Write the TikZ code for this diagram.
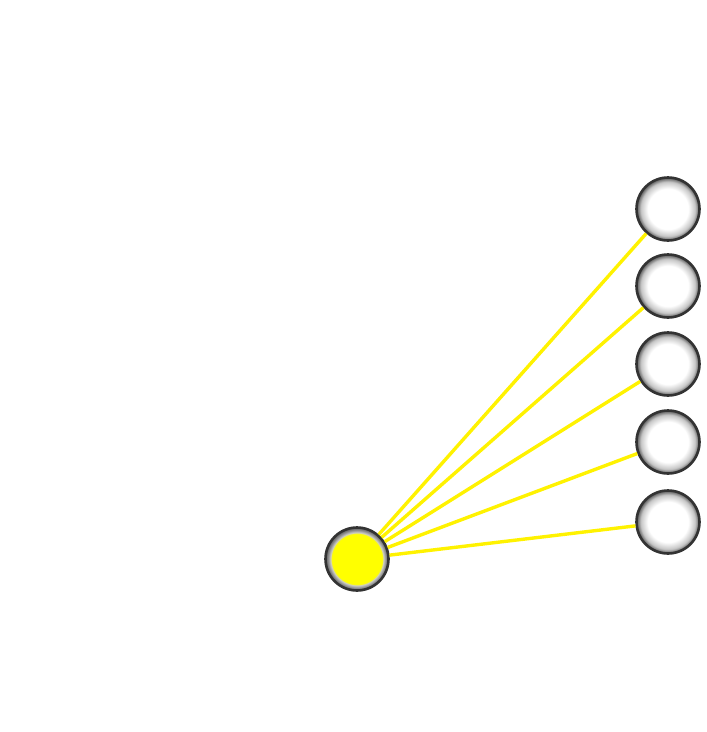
\documentclass[tikz,border=0pt]{standalone}
\usepackage{tikz}
\usetikzlibrary{shapes,positioning}
\definecolor{rim}{HTML}{333333}
\pgfdeclareradialshading{ballwhite}{\pgfpoint{0bp}{0bp}}{color(0bp)=(white); color(16bp)=(white); color(21.5bp)=(black!22); color(24bp)=(black!55); color(25bp)=(black!60); color(50bp)=(black!60)}
\pgfdeclareradialshading{ballyellow}{\pgfpoint{0bp}{0bp}}{color(0bp)=(yellow); color(20bp)=(yellow); color(21bp)=(black!20); color(23bp)=(black!45); color(25bp)=(black!65); color(50bp)=(black!65)}

\begin{document}
\begin{tikzpicture}[
  x=1pt, y=-1pt,
  ball/.style={circle, draw=rim, line width=2.6pt, minimum size=63pt, inner sep=0pt, shading=#1},
  link/.style={draw=yellow, line width=3.4pt}
]
  \useasboundingbox (0,0) rectangle (707,732);
  \node[ball=ballyellow] (src) at (357,559) {};
  \node[ball=ballwhite]  (t1)  at (668,209) {};
  \node[ball=ballwhite]  (t2)  at (668,286) {};
  \node[ball=ballwhite]  (t3)  at (668,364) {};
  \node[ball=ballwhite]  (t4)  at (668,442) {};
  \node[ball=ballwhite]  (t5)  at (668,522) {};
  \draw[link] (src) -- (t1);
  \draw[link] (src) -- (t2);
  \draw[link] (src) -- (t3);
  \draw[link] (src) -- (t4);
  \draw[link] (src) -- (t5);
\end{tikzpicture}
\end{document}
